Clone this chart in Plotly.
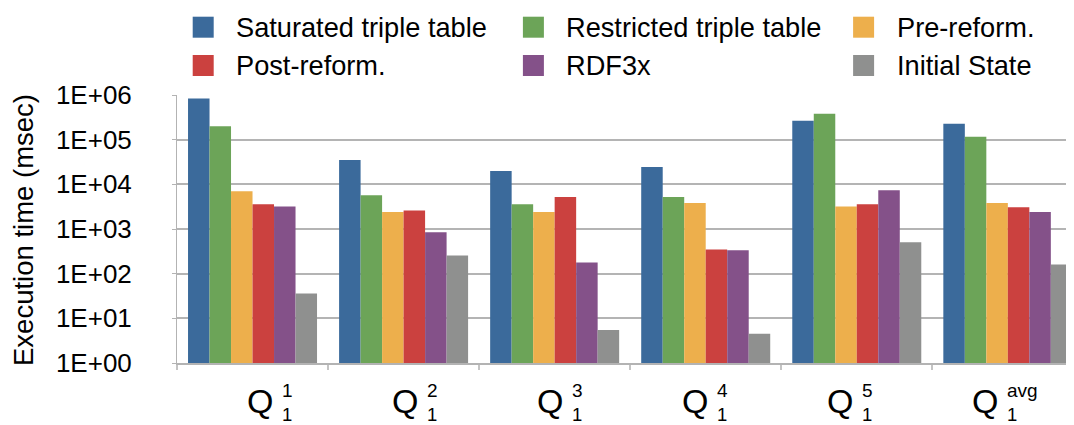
import plotly.graph_objects as go

# ---- data ----
categories = ["Q1_1", "Q1_2", "Q1_3", "Q1_4", "Q1_5", "Q1_avg"]
label_base = "Q"
label_sup = ["1", "2", "3", "4", "5", "avg"]
label_sub = "1"

series_names = ["Saturated triple table", "Restricted triple table", "Pre-reform.",
                "Post-reform.", "RDF3x", "Initial State"]
saturated = [8.3e5, 3.5e4, 2.0e4, 2.45e4, 2.65e5, 2.27e5]
restricted = [2.0e5, 5.7e3, 3.6e3, 5.2e3, 3.8e5, 1.16e5]
pre_reform = [7.0e3, 2.4e3, 2.4e3, 3.8e3, 3.2e3, 3.8e3]
post_reform = [3.6e3, 2.6e3, 5.2e3, 349, 3.6e3, 3.08e3]
rdf3x = [3.2e3, 843, 178, 333, 7.4e3, 2.4e3]
initial_state = [36, 256, 5.5, 4.5, 505, 161]
series_values = [saturated, restricted, pre_reform, post_reform, rdf3x, initial_state]
colors = ["#3B6A9B", "#6CA458", "#EDAF4C", "#CB413F", "#845189", "#8F908F"]

y_tickvals = [1, 10, 100, 1e3, 1e4, 1e5, 1e6]
y_ticktext = ["1E+00", "1E+01", "1E+02", "1E+03", "1E+04", "1E+05", "1E+06"]
y_title = "Execution time (msec)"

# ---- layout geometry (pixels; page has an 8px body margin) ----
OFF = 8
W, H = 1074 - OFF, 425 - OFF
ML, MT, MB, MR = 177 - OFF, 95 - OFF, 62, 0
PW, PH = W - ML - MR, H - MT - MB
FONT = "Liberation Sans, Arial, Helvetica, sans-serif"


def px_x(px):
    return (px - OFF - ML) / PW


def px_y(py):
    return (MT + PH - (py - OFF)) / PH


fig = go.Figure()
for name, vals, col in zip(series_names, series_values, colors):
    fig.add_trace(go.Bar(x=categories, y=vals, name=name, marker=dict(color=col, line=dict(width=0)),
                         showlegend=False))

shapes = []
annotations = []

# manual legend (3 columns x 2 rows)
sq = 21
for i, (name, col) in enumerate(zip(series_names, colors)):
    c, r = i % 3, i // 3
    x0 = 192.7 + c * 330.2
    yc = 27.2 + r * 38.3
    shapes.append(dict(type="rect", xref="paper", yref="paper",
                       x0=px_x(x0), x1=px_x(x0 + sq), y0=px_y(yc + sq / 2), y1=px_y(yc - sq / 2),
                       fillcolor=col, line=dict(width=0)))
    annotations.append(dict(text=name, xref="paper", yref="paper", x=px_x(x0 + 41.5), y=px_y(yc),
                            xanchor="left", yanchor="middle", showarrow=False,
                            font=dict(size=27.2, color="black", family=FONT)))

# x category labels Q^sup_sub
for i, sup in enumerate(label_sup):
    qc = 260.2 + 145.03 * i
    annotations.append(dict(text=label_base, xref="paper", yref="paper", x=px_x(qc), y=px_y(401),
                            xanchor="center", yanchor="middle", showarrow=False,
                            font=dict(size=34, color="black", family=FONT)))
    annotations.append(dict(text=sup, xref="paper", yref="paper", x=px_x(qc + 19.5), y=px_y(390.5),
                            xanchor="left", yanchor="middle", showarrow=False,
                            font=dict(size=19, color="black", family=FONT)))
    annotations.append(dict(text=label_sub, xref="paper", yref="paper", x=px_x(qc + 19.5), y=px_y(414),
                            xanchor="left", yanchor="middle", showarrow=False,
                            font=dict(size=18.5, color="black", family=FONT)))

# y-axis title
annotations.append(dict(text=y_title, xref="paper", yref="paper", x=px_x(23), y=px_y(230),
                        xanchor="center", yanchor="middle", textangle=-90, showarrow=False,
                        font=dict(size=27.5, color="black", family=FONT)))

fig.update_layout(
    width=W, height=H,
    margin=dict(l=ML, r=MR, t=MT, b=MB, pad=0),
    paper_bgcolor="white", plot_bgcolor="white",
    barmode="group", bargap=0.146, bargroupgap=0,
    font=dict(family=FONT, color="black"),
    shapes=shapes, annotations=annotations,
    showlegend=False,
    xaxis=dict(type="category", range=[-0.5, 5.438], showline=True, linecolor="#b3b3b3", linewidth=1.5,
               ticks="outside", tickson="boundaries", ticklen=5, tickcolor="#c4c4c4", tickwidth=1.5,
               showticklabels=False, showgrid=False, zeroline=False, fixedrange=True),
    yaxis=dict(type="log", range=[0, 6], tickvals=y_tickvals, ticktext=y_ticktext,
               showline=True, linecolor="#b3b3b3", linewidth=1, ticks="outside", ticklen=4,
               tickcolor="#b3b3b3", showgrid=True, gridcolor="#b4b4b4", gridwidth=1.5,
               zeroline=False, tickfont=dict(size=26, color="black", family=FONT),
               ticklabelstandoff=35, fixedrange=True),
)

fig.write_html("out.html")
